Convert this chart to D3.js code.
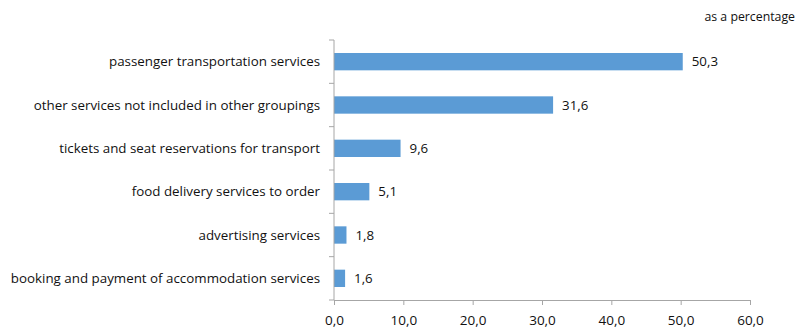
<!DOCTYPE html>
<html><head><meta charset="utf-8">
<script src="https://cdn.jsdelivr.net/npm/d3@7"></script>
<style>body{margin:0;background:#fff}svg{display:block}text{font-family:"Open Sans",sans-serif;fill:#111}</style>
</head><body>
<script>
const categories = ["passenger transportation services","other services not included in other groupings","tickets and seat reservations for transport","food delivery services to order","advertising services","booking and payment of accommodation services"];
const values = [50.3,31.6,9.6,5.1,1.8,1.6];
const ticks = [0,10,20,30,40,50,60];
const unitLabel = "as a percentage";

const W=804,H=336;
const svg=d3.select("body").append("svg").attr("width",W).attr("height",H);
const x=d3.scaleLinear().domain([0,60]).range([334,750]);
const y=d3.scaleBand().domain(categories).range([40,300]).paddingInner(0.6).paddingOuter(0.3);
const fmt=v=>v.toFixed(1).replace(".",",");
const axisColor="#a6a6a6";

svg.append("text").attr("x",795).attr("y",21).attr("text-anchor","end").style("font-size","12.3px").text(unitLabel);

// bars
svg.selectAll("rect.bar").data(values).join("rect").attr("class","bar")
 .attr("x",x(0)).attr("y",(d,i)=>y(categories[i])).attr("width",d=>x(d)-x(0)).attr("height",y.bandwidth()).attr("fill","#5b9bd5");
svg.selectAll("text.val").data(values).join("text").attr("class","val")
 .attr("x",d=>x(d)+9).attr("y",(d,i)=>y(categories[i])+y.bandwidth()/2).attr("dy","0.35em").style("font-size","13.3px").text(d=>fmt(d));

// category labels
svg.selectAll("text.cat").data(categories).join("text").attr("class","cat")
 .attr("x",320).attr("y",d=>y(d)+y.bandwidth()/2).attr("dy","0.35em").attr("text-anchor","end").style("font-size","13.35px").text(d=>d);

// x axis
const xa=svg.append("g").attr("transform","translate(0,300)").call(d3.axisBottom(x).tickValues(ticks).tickSize(5).tickFormat(fmt));
xa.select(".domain").attr("stroke",axisColor);
xa.selectAll(".tick line").attr("stroke",axisColor);
xa.selectAll(".tick text").attr("dy","1.25em").style("font-size","13.5px").style("fill","#111").attr("font-family",null);
// y axis
const bounds=d3.range(categories.length+1).map(i=>40+i*(260/categories.length));
svg.append("line").attr("x1",x(0)).attr("x2",x(0)).attr("y1",40).attr("y2",300).attr("stroke",axisColor);
svg.selectAll("line.yt").data(bounds).join("line").attr("class","yt").attr("x1",x(0)-5).attr("x2",x(0)).attr("y1",d=>d).attr("y2",d=>d).attr("stroke",axisColor);
</script>
</body></html>
